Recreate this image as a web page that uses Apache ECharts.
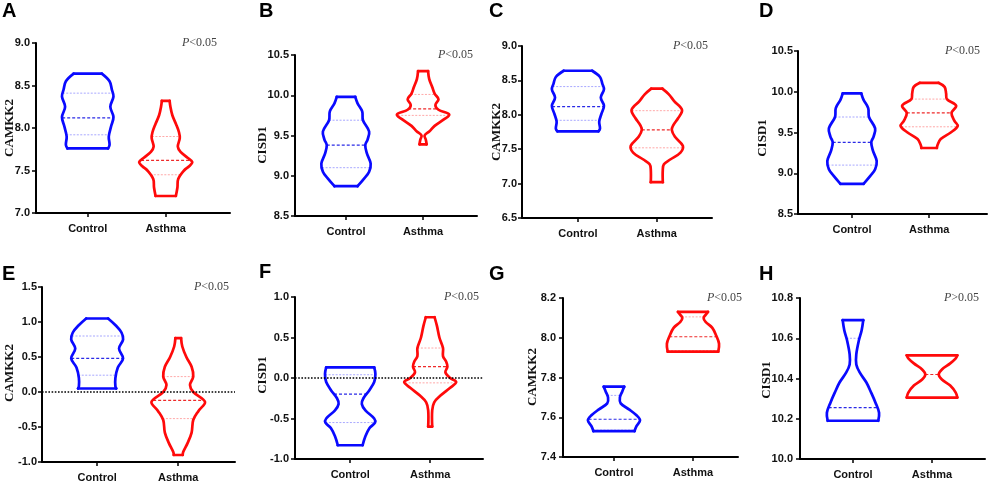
<!DOCTYPE html>
<html>
<head>
<meta charset="utf-8">
<script src="https://cdn.jsdelivr.net/npm/echarts@6/dist/echarts.min.js"></script>
<style>
html, body { margin: 0; padding: 0; background: #fff; }
#main { width: 989px; height: 486px; }
</style>
</head>
<body>
<div id="main"></div>
<script>
// ---- data ----
var groups = ['Control', 'Asthma'];
var panelLetters = ['A', 'B', 'C', 'D', 'E', 'F', 'G', 'H'];
var geneNames = ['CAMKK2', 'CISD1', 'CAMKK2', 'CISD1', 'CAMKK2', 'CISD1', 'CAMKK2', 'CISD1'];
var pTexts = ['<0.05', '<0.05', '<0.05', '<0.05', '<0.05', '<0.05', '<0.05', '>0.05'];
var yMin = [7.0, 8.5, 6.5, 8.5, -1.0, -1.0, 7.4, 10.0];
var yMax = [9.0, 10.5, 9.0, 10.5, 1.5, 1.0, 8.2, 10.8];
var yStep = [0.5, 0.5, 0.5, 0.5, 0.5, 0.5, 0.2, 0.2];
var zeroLine = [false, false, false, false, true, true, false, false];

// violin outlines, top to bottom: [expression, half width in group units]
var ctrlA = [[8.64, 0.18], [8.55, 0.28], [8.45, 0.31], [8.37, 0.33], [8.25, 0.29], [8.13, 0.33],
  [8.02, 0.30], [7.90, 0.27], [7.80, 0.28], [7.76, 0.26]];
var asthA = [[8.32, 0.05], [8.25, 0.06], [8.15, 0.085], [8.05, 0.13], [7.95, 0.17], [7.88, 0.18],
  [7.78, 0.155], [7.72, 0.19], [7.65, 0.28], [7.60, 0.34], [7.55, 0.30], [7.50, 0.235],
  [7.40, 0.16], [7.30, 0.15], [7.20, 0.13]];
var ctrlB = [[9.98, 0.12], [9.90, 0.15], [9.80, 0.21], [9.69, 0.22], [9.55, 0.30], [9.45, 0.28],
  [9.38, 0.25], [9.28, 0.27], [9.15, 0.32], [9.05, 0.30], [8.97, 0.24], [8.87, 0.15]];
var asthB = [[10.30, 0.065], [10.20, 0.08], [10.10, 0.12], [10.02, 0.15], [9.95, 0.20], [9.88, 0.16],
  [9.82, 0.20], [9.76, 0.34], [9.70, 0.27], [9.62, 0.15], [9.55, 0.08], [9.50, 0.02],
  [9.45, 0.035], [9.40, 0.045], [9.39, 0.045]];
var ctrlC = ctrlA;
var asthC = [[8.38, 0.07], [8.30, 0.15], [8.20, 0.22], [8.07, 0.32], [7.95, 0.27], [7.85, 0.21],
  [7.78, 0.19], [7.68, 0.23], [7.55, 0.33], [7.45, 0.30], [7.35, 0.17], [7.28, 0.09],
  [7.20, 0.076], [7.02, 0.076]];
var ctrlD = ctrlB;
var asthD = [[10.11, 0.12], [10.06, 0.20], [9.98, 0.22], [9.91, 0.23], [9.83, 0.35], [9.74, 0.29],
  [9.64, 0.33], [9.58, 0.37], [9.50, 0.28], [9.42, 0.15], [9.35, 0.11], [9.31, 0.10]];
var ctrlE = [[1.05, 0.135], [0.95, 0.23], [0.85, 0.30], [0.75, 0.32], [0.62, 0.27], [0.48, 0.32],
  [0.35, 0.255], [0.20, 0.225], [0.08, 0.225], [0.05, 0.235]];
var asthE = [[0.77, 0.035], [0.65, 0.05], [0.50, 0.10], [0.36, 0.165], [0.22, 0.185], [0.10, 0.145],
  [0.00, 0.185], [-0.14, 0.33], [-0.27, 0.25], [-0.40, 0.185], [-0.58, 0.165], [-0.73, 0.115],
  [-0.86, 0.06], [-0.90, 0.055]];
var ctrlF = [[0.13, 0.30], [0.05, 0.315], [-0.05, 0.30], [-0.15, 0.24], [-0.25, 0.165], [-0.32, 0.145],
  [-0.40, 0.19], [-0.50, 0.30], [-0.55, 0.31], [-0.62, 0.24], [-0.72, 0.19], [-0.83, 0.155]];
var asthF = [[0.75, 0.055], [0.64, 0.085], [0.50, 0.115], [0.37, 0.16], [0.27, 0.16], [0.20, 0.20],
  [0.14, 0.215], [0.07, 0.19], [0.00, 0.25], [-0.05, 0.325], [-0.12, 0.25], [-0.22, 0.125],
  [-0.30, 0.05], [-0.40, 0.025], [-0.60, 0.025]];
var ctrlG = [[7.754, 0.13], [7.73, 0.105], [7.70, 0.075], [7.67, 0.085], [7.64, 0.19], [7.61, 0.285],
  [7.585, 0.33], [7.555, 0.285], [7.53, 0.26]];
var asthG = [[8.13, 0.19], [8.115, 0.16], [8.10, 0.135], [8.08, 0.16], [8.05, 0.245], [8.01, 0.295],
  [7.97, 0.33], [7.93, 0.32]];
var ctrlH = [[10.69, 0.13], [10.64, 0.11], [10.59, 0.075], [10.52, 0.042], [10.47, 0.042], [10.43, 0.085],
  [10.38, 0.17], [10.33, 0.23], [10.28, 0.285], [10.23, 0.33], [10.19, 0.32]];
var asthH = [[10.515, 0.32], [10.50, 0.30], [10.475, 0.23], [10.445, 0.125], [10.42, 0.085],
  [10.395, 0.125], [10.365, 0.23], [10.33, 0.30], [10.305, 0.32]];

// quartiles [Q1, median, Q3]
var quartCtrl = [[7.92, 8.12, 8.41], [9.10, 9.38, 9.69], [7.92, 8.12, 8.41], [9.10, 9.38, 9.69],
  [0.24, 0.48, 0.80], [-0.55, -0.20, 0.04], [7.535, 7.59, 7.71], [10.19, 10.255, 10.60]];
var quartAsth = [[7.45, 7.62, 7.90], [9.75, 9.83, 10.01], [7.52, 7.78, 8.06], [9.57, 9.74, 9.91],
  [-0.38, -0.12, 0.22], [-0.06, 0.14, 0.37], [7.935, 8.005, 8.105], [10.305, 10.42, 10.515]];

var ctrlProfiles = [ctrlA, ctrlB, ctrlC, ctrlD, ctrlE, ctrlF, ctrlG, ctrlH];
var asthProfiles = [asthA, asthB, asthC, asthD, asthE, asthF, asthG, asthH];

// ---- layout ----
var layout = [
  { left: 36, top: 43, width: 194, height: 170, xMin: -0.663, xMax: 1.824, gap: 6, letter: [2, 1], title: [10, 128], p: [182, 43] },
  { left: 295, top: 55, width: 182, height: 161, xMin: -0.662, xMax: 1.70, gap: 6, letter: [259, 1], title: [263, 145], p: [438, 55] },
  { left: 522, top: 46, width: 190, height: 172, xMin: -0.709, xMax: 1.70, gap: 5, letter: [489, 1], title: [497, 132], p: [673, 46] },
  { left: 798, top: 51, width: 189, height: 163, xMin: -0.70, xMax: 1.75, gap: 5, letter: [759, 1], title: [763, 138], p: [945, 51] },
  { left: 42, top: 287, width: 193, height: 175, xMin: -0.68, xMax: 1.70, gap: 5, letter: [2, 264], title: [10, 373], p: [194, 287] },
  { left: 295, top: 297, width: 188, height: 162, xMin: -0.69, xMax: 1.66, gap: 6, letter: [259, 262], title: [263, 375], p: [444, 297] },
  { left: 563, top: 298, width: 175, height: 159, xMin: -0.645, xMax: 1.57, gap: 7, letter: [489, 264], title: [533, 377], p: [707, 298] },
  { left: 800, top: 298, width: 185, height: 161, xMin: -0.67, xMax: 1.67, gap: 7, letter: [759, 264], title: [767, 380], p: [944, 298] }
];

var SANS = "'Liberation Sans', Arial, sans-serif";
var SERIF = "'Liberation Serif', 'Times New Roman', serif";
var colors = [
  { edge: '#0a0aff', mid: '#2a2ae6', light: '#a8a8ff' },
  { edge: '#ff0a0a', mid: '#ee2a2a', light: '#ffa8a8' }
];

function widthAt(profile, v) {
  for (var i = 0; i < profile.length - 1; i++) {
    var a = profile[i], b = profile[i + 1];
    if (v <= a[0] && v >= b[0]) {
      var t = (a[0] - v) / (a[0] - b[0]);
      return a[1] + (b[1] - a[1]) * t;
    }
  }
  return v > profile[0][0] ? profile[0][1] : profile[profile.length - 1][1];
}

function violinRenderer(profile, quart, col) {
  return function (params, api) {
    if (params.dataIndexInside !== 0) return null;
    var n = params.dataInsideLength;
    var g = api.value(0, 0);
    var right = [], left = [];
    for (var i = 0; i < n; i++) {
      var y = api.value(1, i), w = api.value(2, i);
      right.push(api.coord([g + w, y]));
      left.push(api.coord([g - w, y]));
    }
    var children = [];
    quart.forEach(function (q, k) {
      var w = widthAt(profile, q);
      var a = api.coord([g - w, q]), b = api.coord([g + w, q]);
      children.push({
        type: 'line',
        shape: { x1: a[0], y1: a[1], x2: b[0], y2: b[1] },
        style: {
          stroke: k === 1 ? col.mid : col.light,
          lineWidth: k === 1 ? 1.2 : 1,
          lineDash: k === 1 ? [3, 2] : [2, 1.5]
        }
      });
    });
    var edge = { stroke: col.edge, lineWidth: 2.7, fill: 'none', lineJoin: 'round', lineCap: 'round' };
    children.push({ type: 'polyline', shape: { points: right, smooth: 0.35 }, style: edge });
    children.push({ type: 'polyline', shape: { points: left, smooth: 0.35 }, style: edge });
    children.push({ type: 'line', shape: { x1: left[0][0], y1: left[0][1], x2: right[0][0], y2: right[0][1] }, style: edge });
    children.push({ type: 'line', shape: { x1: left[n - 1][0], y1: left[n - 1][1], x2: right[n - 1][0], y2: right[n - 1][1] }, style: edge });
    return { type: 'group', children: children };
  };
}

var grids = [], xAxes = [], yAxes = [], series = [], graphics = [];

layout.forEach(function (L, i) {
  grids.push({ left: L.left, top: L.top, width: L.width, height: L.height, containLabel: false, outerBoundsMode: 'none' });
  xAxes.push({
    type: 'value', gridIndex: i, min: L.xMin, max: L.xMax,
    axisLine: { show: true, onZero: false, lineStyle: { color: '#000', width: 2 } },
    axisTick: { show: true, customValues: [0, 1], length: 4, lineStyle: { color: '#000', width: 1.5 } },
    axisLabel: {
      customValues: [0, 1], margin: 10, color: '#111', fontWeight: 'bold', fontSize: 11, fontFamily: SANS,
      formatter: function (v) { return groups[Math.round(v)]; }
    },
    splitLine: { show: false }
  });
  yAxes.push({
    type: 'value', gridIndex: i, min: yMin[i], max: yMax[i], interval: yStep[i],
    axisLine: { show: true, onZero: false, lineStyle: { color: '#000', width: 2 } },
    axisTick: { show: true, length: 4, lineStyle: { color: '#000', width: 1.5 } },
    axisLabel: {
      margin: L.gap, color: '#111', fontWeight: 'bold', fontSize: 11, fontFamily: SANS,
      formatter: function (v) { return v.toFixed(1); }
    },
    splitLine: { show: false }
  });

  [ctrlProfiles[i], asthProfiles[i]].forEach(function (profile, g) {
    var quart = g === 0 ? quartCtrl[i] : quartAsth[i];
    series.push({
      type: 'custom',
      name: groups[g],
      xAxisIndex: i, yAxisIndex: i,
      clip: false,
      silent: true,
      encode: { x: 0, y: 1 },
      data: profile.map(function (p) { return [g, p[0], p[1]]; }),
      renderItem: violinRenderer(profile, quart, colors[g])
    });
  });

  if (zeroLine[i]) {
    series.push({
      type: 'line', xAxisIndex: i, yAxisIndex: i, data: [], silent: true,
      markLine: {
        silent: true, symbol: ['none', 'none'], label: { show: false },
        lineStyle: { type: 'dotted', color: '#000', width: 1.6 },
        data: [{ yAxis: 0 }]
      }
    });
  }

  graphics.push({
    type: 'text', x: L.letter[0], y: L.letter[1],
    style: { text: panelLetters[i], font: 'bold 20px ' + SANS, fill: '#000', verticalAlign: 'top' }
  });
  graphics.push({
    type: 'text', x: L.title[0], y: L.title[1], rotation: Math.PI / 2,
    style: { text: geneNames[i], font: 'bold 13px ' + SERIF, fill: '#111', align: 'center', verticalAlign: 'middle' }
  });
  graphics.push({
    type: 'text', x: L.p[0], y: L.p[1],
    style: {
      text: '{i|P}' + pTexts[i], font: '12px ' + SERIF, fill: '#444', verticalAlign: 'middle',
      rich: { i: { fontStyle: 'italic', fontFamily: SERIF, fontSize: 12, fill: '#444' } }
    }
  });
});

var chart = echarts.init(document.getElementById('main'));
var option = {
  backgroundColor: '#fff',
  animation: false,
  grid: grids,
  xAxis: xAxes,
  yAxis: yAxes,
  series: series,
  graphic: graphics
};
chart.setOption(option);
window.addEventListener('resize', function () { chart.resize(); });
</script>
</body>
</html>
